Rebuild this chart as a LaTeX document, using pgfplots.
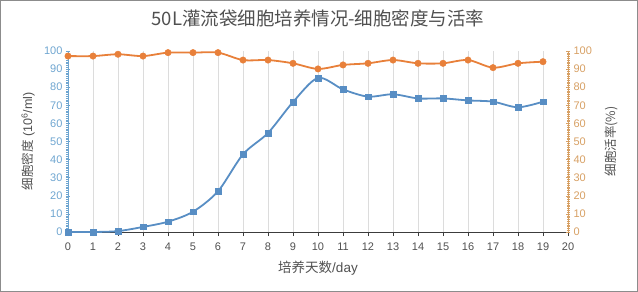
\documentclass[border=0pt]{standalone}
\usepackage{pgfplots}
\pgfplotsset{compat=1.18}
\usepackage{fontspec}
\setmainfont{Liberation Sans}
\newfontfamily\cjk{Noto Sans CJK SC}
\definecolor{dblue}{RGB}{88,142,196}
\definecolor{dorange}{RGB}{232,128,58}
\definecolor{lblue}{RGB}{110,165,208}
\definecolor{lorange}{RGB}{215,160,100}
\definecolor{txt}{RGB}{80,80,80}
\definecolor{gridc}{RGB}{220,220,220}
\definecolor{axc}{RGB}{60,60,60}
\begin{document}
\begin{tikzpicture}[x=1pt,y=1pt]
\path[use as bounding box] (-68,-60) rectangle (570,232);
\draw[black!45, line width=1pt] (-67.5,-59.5) rectangle (569.5,231.5);
\begin{axis}[
  at={(0,0)}, anchor=south west, scale only axis, width=500pt, height=181pt,
  xmin=0, xmax=20, ymin=0, ymax=100,
  axis x line*=bottom, axis y line*=left,
  xtick={0,...,20}, ytick={0,10,...,100},
  minor y tick num=9,
  xmajorgrids, grid style={draw=gridc, line width=0.7pt},
  x axis line style={draw=axc, line width=0.9pt, -},
  y axis line style={draw=lblue, line width=0.9pt, -},
  xtick align=outside, ytick align=center,
  major tick length=4pt, minor tick length=3pt,
  xtick style={draw=axc, line width=0.6pt},
  ytick style={draw=lblue, line width=0.5pt},
  minor y tick style={draw=lblue, line width=0.4pt},
  /pgf/number format/assume math mode=true,
  xticklabel style={font=\fontsize{11}{12}\selectfont, text=txt, yshift=-3pt},
  yticklabel style={font=\fontsize{11}{12}\selectfont, text=lblue},
  xlabel={{\cjk 培养天数}/day},
  xlabel style={at={(axis description cs:0.5,0)}, anchor=center, yshift=-36pt, font=\fontsize{13.5}{15}\selectfont, text=txt},
  ylabel={{\cjk 细胞密度} (10\textsuperscript{6}/ml)},
  ylabel style={at={(axis description cs:-0.08,0.5)}, anchor=center, font=\fontsize{12.5}{14}\selectfont, text=txt},
  title={{\cjk 50L灌流袋细胞培养情况-细胞密度与活率}},
  title style={at={(axis description cs:0.5,1)}, anchor=center, yshift=27pt, font=\fontsize{18.5}{20}\selectfont, text=txt},
  clip=false,
]
\addplot[color=dblue, line width=1.8pt, smooth, tension=0.5, mark=square*, mark size=2.8pt, mark options={fill=dblue, draw=dblue, line width=0.5pt}]
coordinates {(0,0) (1,0) (2,0.5) (3,2.8) (4,5.7) (5,11.2) (6,22.5) (7,42.9) (8,54.7) (9,71.8) (10,85.1) (11,78.8) (12,74.8) (13,76.1) (14,73.8) (15,73.8) (16,72.7) (17,72) (18,68.9) (19,72)};
\end{axis}
\begin{axis}[
  at={(0,0)}, anchor=south west, scale only axis, width=500pt, height=181pt,
  xmin=0, xmax=20, ymin=0, ymax=100,
  axis x line=none, axis y line*=right,
  ytick={0,10,...,100},
  minor y tick num=9,
  y axis line style={draw=lorange, line width=0.9pt, -},
  ytick align=center,
  major tick length=4pt, minor tick length=3pt,
  ytick style={draw=lorange, line width=0.5pt},
  minor y tick style={draw=lorange, line width=0.4pt},
  /pgf/number format/assume math mode=true,
  yticklabel style={font=\fontsize{11}{12}\selectfont, text=lorange},
  ylabel={{\cjk 细胞活率(\%)}},
  ylabel style={at={(axis description cs:1.086,0.5)}, anchor=center, font=\fontsize{12.5}{14}\selectfont, text=txt},
  clip=false,
]
\addplot[color=dorange, line width=1.8pt, smooth, tension=0.5, mark=*, mark size=3.2pt, mark options={fill=dorange, draw=dorange, line width=0.5pt}]
coordinates {(0,97.2) (1,97.2) (2,98.2) (3,97.2) (4,99.1) (5,99.1) (6,99.1) (7,95) (8,95) (9,93.2) (10,90.1) (11,92.3) (12,93.2) (13,95) (14,93.2) (15,93.2) (16,95) (17,90.8) (18,93.2) (19,94.1)};
\end{axis}
\end{tikzpicture}
\end{document}
